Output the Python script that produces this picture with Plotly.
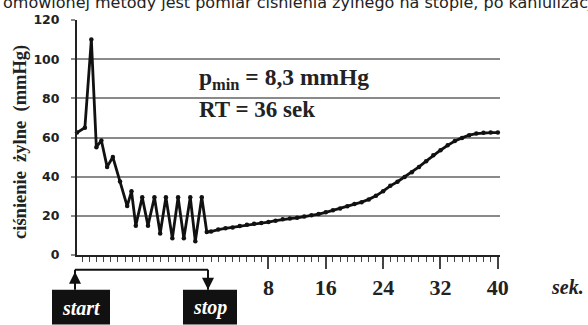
import plotly.graph_objects as go

# ---- data ----
time_ex = [-18.7, -17.6, -16.7, -16.0, -15.3, -14.5, -13.7, -12.7, -11.7, -11.1, -10.5,
           -9.6, -8.8, -7.9, -7.1, -6.3, -5.4, -4.6, -3.8, -2.9, -2.2, -1.3]
p_ex = [62.5, 65.0, 110.0, 55.0, 58.5, 45.0, 50.0, 37.5, 25.0, 32.5, 15.0,
        29.5, 15.0, 29.5, 11.0, 29.5, 8.5, 29.5, 8.5, 29.5, 7.0, 29.5]

time_rec = [-0.6, 0, 1, 2, 3, 4, 5, 6, 7, 8, 9, 10, 11, 12, 13, 14, 15, 16, 17, 18, 19, 20,
            21, 22, 23, 24, 25, 26, 27, 28, 29, 30, 31, 32, 33, 34, 35, 36, 37, 38, 39, 40]
p_rec = [11.8, 12.0, 13.0, 13.6, 14.1, 14.8, 15.4, 15.9, 16.3, 16.8, 17.5, 18.2, 18.6, 19.0,
         19.6, 20.3, 20.9, 21.8, 22.8, 23.8, 24.9, 26.0, 27.0, 28.4, 30.2, 32.6, 35.3, 37.4,
         39.8, 42.2, 45.0, 47.9, 50.9, 53.5, 56.0, 58.2, 59.8, 61.2, 62.0, 62.4, 62.5, 62.5]

y_ticks = [0, 20, 40, 60, 80, 100, 120]
x_ticks = [8, 16, 24, 32, 40]
x_ticklabels = ["8", "16", "24", "32", "40"]

top_text = "omówionej metody jest pomiar ciśnienia żylnego na stopie, po kaniulizacji"
y_title = "ciśnienie  żylne  (mmHg)"
note_pmin = "p<sub>min</sub> = 8,3 mmHg"
note_rt = "RT = 36 sek"

# ---- layout geometry ----
W, H = 588, 325
L, R, T, B = 77, 88, 18, 70
PW, PH = W - L - R, H - T - B


def px(x):
    return (x - L) / PW


def py(y):
    return 1 - (y - T) / PH


serif = "Liberation Serif"

fig = go.Figure()
fig.add_trace(go.Scatter(
    x=time_ex + time_rec, y=p_ex + p_rec, mode="lines+markers",
    line=dict(color="#111111", width=2.8),
    marker=dict(color="#111111", size=4.5),
    showlegend=False, hoverinfo="skip", cliponaxis=False))

fig.update_layout(
    width=W, height=H, margin=dict(l=L, r=R, t=T, b=B),
    paper_bgcolor="white", plot_bgcolor="white",
    xaxis=dict(range=[-18.7, 40.3], tickvals=x_ticks, ticktext=x_ticklabels,
               showgrid=False, zeroline=False, showline=True, linecolor="#222", linewidth=2,
               ticks="outside", ticklen=12, tickwidth=1.5, tickcolor="#444",
               minor=dict(dtick=1, tick0=0, ticks="outside", ticklen=5, tickwidth=1, tickcolor="#444"),
               ticklabelstandoff=0,
               tickfont=dict(family=serif, size=22, color="#222", weight="bold")),
    yaxis=dict(range=[0, 120], tickvals=y_ticks, showgrid=True, gridcolor="#8a8a8a", gridwidth=2,
               zeroline=False, showline=True, linecolor="#222", linewidth=2,
               ticks="outside", ticklen=4, tickcolor="#8a8a8a", tickwidth=2,
               ticklabelstandoff=9,
               tickfont=dict(family="DejaVu Sans", size=12.5, color="#222", weight="bold")),
)

ann = []
ann.append(dict(text=top_text, x=px(1), y=py(0), xref="paper", yref="paper",
                xanchor="left", yanchor="middle", showarrow=False,
                font=dict(family="DejaVu Sans", size=16, color="#222")))
ann.append(dict(text=y_title, x=px(21), y=py(141), xref="paper", yref="paper",
                xanchor="center", yanchor="middle", showarrow=False, textangle=-90,
                font=dict(family=serif, size=18.5, color="#222", weight="bold")))
ann.append(dict(text=note_pmin, x=px(197), y=py(77), xref="paper", yref="paper",
                xanchor="left", yanchor="middle", showarrow=False,
                font=dict(family=serif, size=23.5, color="#222", weight="bold")))
ann.append(dict(text=note_rt, x=px(197), y=py(108), xref="paper", yref="paper",
                xanchor="left", yanchor="middle", showarrow=False,
                font=dict(family=serif, size=23, color="#222", weight="bold")))
ann.append(dict(text="sek.", x=px(567), y=py(287), xref="paper", yref="paper",
                xanchor="center", yanchor="middle", showarrow=False,
                font=dict(family=serif, size=20, color="#222", weight="bold", style="italic")))
ann.append(dict(text="start", x=px(81), y=py(308), xref="paper", yref="paper",
                xanchor="center", yanchor="middle", showarrow=False,
                font=dict(family=serif, size=20, color="white", weight="bold", style="italic")))
ann.append(dict(text="stop", x=px(210), y=py(308), xref="paper", yref="paper",
                xanchor="center", yanchor="middle", showarrow=False,
                font=dict(family=serif, size=20, color="white", weight="bold", style="italic")))
# arrowheads
ann.append(dict(text="", x=px(75), y=py(272), xref="paper", yref="paper",
                ax=0, ay=18, showarrow=True, arrowhead=2, arrowsize=1.2, arrowwidth=2,
                arrowcolor="#111"))
ann.append(dict(text="", x=px(208), y=py(290), xref="paper", yref="paper",
                ax=0, ay=-18, showarrow=True, arrowhead=2, arrowsize=1.2, arrowwidth=2,
                arrowcolor="#111"))
fig.update_layout(annotations=ann)

shapes = []
shapes.append(dict(type="rect", xref="paper", yref="paper", x0=px(52), x1=px(110),
                   y0=py(325), y1=py(290), fillcolor="#111", line=dict(width=0), layer="below"))
shapes.append(dict(type="rect", xref="paper", yref="paper", x0=px(183), x1=px(237),
                   y0=py(325), y1=py(290), fillcolor="#111", line=dict(width=0), layer="below"))
shapes.append(dict(type="line", xref="paper", yref="paper", x0=px(75), x1=px(75),
                   y0=py(290), y1=py(270), line=dict(color="#111", width=2)))
shapes.append(dict(type="line", xref="paper", yref="paper", x0=px(75), x1=px(208),
                   y0=py(270), y1=py(270), line=dict(color="#111", width=2)))
shapes.append(dict(type="line", xref="paper", yref="paper", x0=px(208), x1=px(208),
                   y0=py(270), y1=py(290), line=dict(color="#111", width=2)))
fig.update_layout(shapes=shapes)

# remove the browser's default 8px body margin so the figure fills the window exactly
fig.write_html("out.html", config={"displayModeBar": False},
               post_script="document.body.style.margin='0';")
